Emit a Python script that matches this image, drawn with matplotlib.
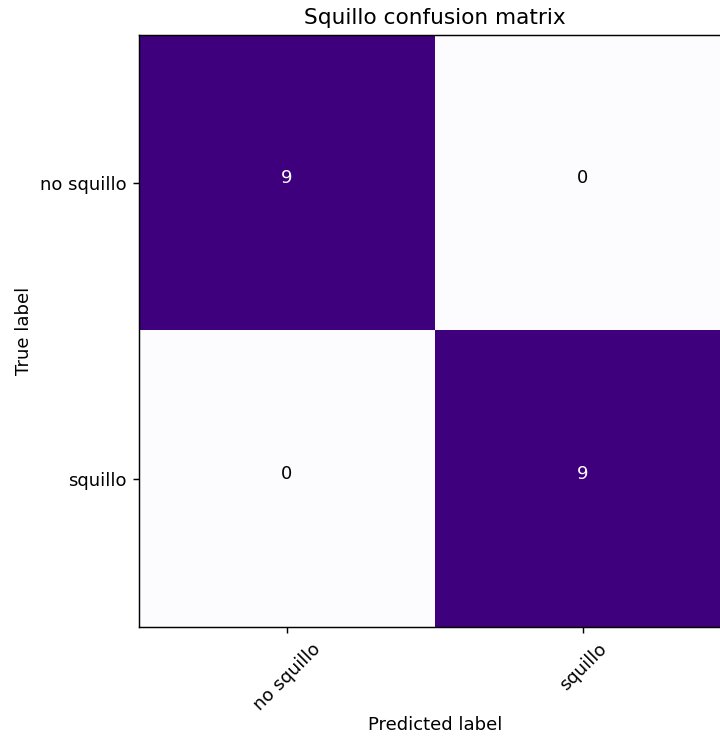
import matplotlib
matplotlib.use("Agg")
import matplotlib.pyplot as plt
import numpy as np

classes = ["no squillo", "squillo"]
cm_row_no = [9, 0]
cm_row_yes = [0, 9]

cm = np.array([cm_row_no, cm_row_yes])

# original was rendered at a larger scale, so bump everything by ~1.3
S = 1.3
plt.rcParams.update({
    "font.size": 10 * S,
    "axes.titlesize": 12 * S,
    "axes.labelsize": 10 * S,
    "xtick.labelsize": 10 * S,
    "ytick.labelsize": 10 * S,
    "xtick.major.size": 3.5 * S,
    "ytick.major.size": 3.5 * S,
    "xtick.major.pad": 3.5 * S,
    "ytick.major.pad": 3.5 * S,
    "axes.linewidth": 0.8 * S,
    "xtick.major.width": 0.8 * S,
    "ytick.major.width": 0.8 * S,
    "axes.titlepad": 6 * S,
    "axes.labelpad": 4 * S,
})

fig = plt.figure(figsize=(7.2, 7.36), dpi=100)
# axes is square but extends past the right edge of the figure (cropped original)
ax = fig.add_axes([139 / 720, 109 / 736, 592 / 720, 592 / 736])
ax.imshow(cm, interpolation="nearest", cmap=plt.cm.Purples, aspect="auto")
ax.set_title("Squillo confusion matrix")

ticks = np.arange(len(classes))
ax.set_xticks(ticks)
ax.set_xticklabels(classes, rotation=45)
ax.set_yticks(ticks)
ax.set_yticklabels(classes)

thresh = cm.max() / 2.0
for i in range(cm.shape[0]):
    for j in range(cm.shape[1]):
        ax.text(j, i, format(cm[i, j], "d"), horizontalalignment="center",
                color="white" if cm[i, j] > thresh else "black")

ax.set_ylabel("True label")
ax.set_xlabel("Predicted label", labelpad=2)

fig.savefig("out.png", dpi=100)
